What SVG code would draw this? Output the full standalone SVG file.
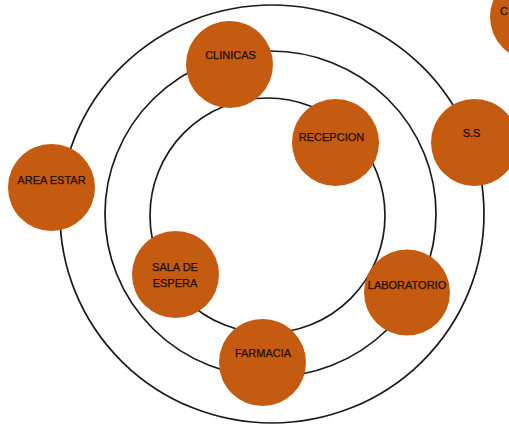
<svg xmlns="http://www.w3.org/2000/svg" width="509" height="428" viewBox="0 0 509 428">
<style>
.ring{fill:none;stroke:#1a1a1a;stroke-width:1.7}
.node{fill:#C55A11}
.lbl{font-family:"Liberation Sans",Arial,sans-serif;font-size:11px;fill:#1f0e00;stroke:#1f0e00;stroke-width:0.25;text-anchor:middle}
</style>
<rect width="509" height="428" fill="#ffffff"/>
<g id="connectors">
<ellipse class="ring" cx="272" cy="214" rx="212" ry="209"/>
<ellipse class="ring" cx="270.5" cy="214" rx="165.5" ry="163"/>
<ellipse class="ring" cx="267.5" cy="215.5" rx="117.5" ry="117.5"/>
</g>
<g id="clinicas"><circle class="node" cx="229.5" cy="64.5" r="43.5"/><text class="lbl" x="230.5" y="59">CLINICAS</text></g>
<g id="recepcion"><circle class="node" cx="335.5" cy="142.5" r="43.5"/><text class="lbl" x="331.5" y="141">RECEPCION</text></g>
<g id="ss"><circle class="node" cx="474.5" cy="142.5" r="43.5"/><text class="lbl" x="471.5" y="137">S.S</text></g>
<g id="area-estar"><circle class="node" cx="51.5" cy="187.5" r="43.5"/><text class="lbl" x="51.5" y="184">AREA ESTAR</text></g>
<g id="sala-espera"><circle class="node" cx="175.5" cy="274.5" r="43.5"/><text class="lbl" x="175" y="271">SALA DE</text><text class="lbl" x="175" y="287">ESPERA</text></g>
<g id="laboratorio"><circle class="node" cx="407" cy="292.5" r="43"/><text class="lbl" x="407" y="289">LABORATORIO</text></g>
<g id="farmacia"><circle class="node" cx="262.5" cy="362.5" r="43.5"/><text class="lbl" x="263" y="357">FARMACIA</text></g>
<g id="partial"><circle class="node" cx="533" cy="17" r="43"/><text class="lbl" x="500" y="15" style="text-anchor:start">C</text></g>
</svg>
